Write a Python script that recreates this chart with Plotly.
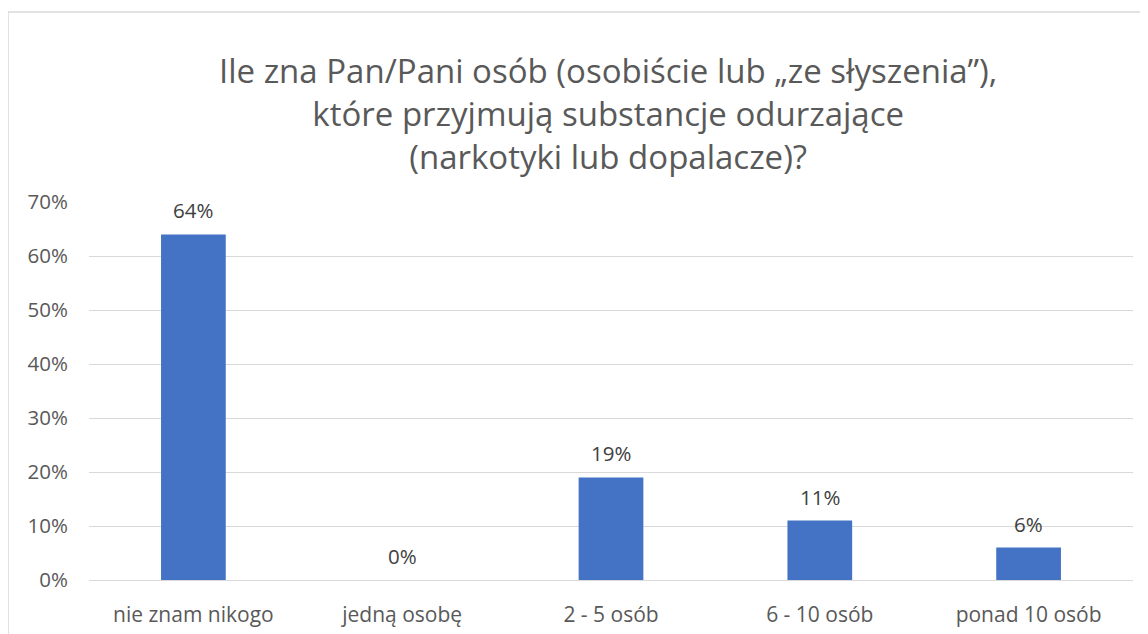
import plotly.graph_objects as go

categories = ["nie znam nikogo", "jedną osobę", "2 - 5 osób", "6 - 10 osób", "ponad 10 osób"]
values = [0.64, 0.00, 0.19, 0.11, 0.06]
labels = ["64%", "0%", "19%", "11%", "6%"]
y_ticks = [0, 0.1, 0.2, 0.3, 0.4, 0.5, 0.6, 0.7]
y_ticklabels = ["0%", "10%", "20%", "30%", "40%", "50%", "60%", "70%"]
title_text = "Ile zna Pan/Pani osób (osobiście lub „ze słyszenia”),<br>które przyjmują substancje odurzające<br>(narkotyki lub dopalacze)?"

FONT = "Open Sans"
OFF = 8  # page body margin
W, H = 1148 - OFF, 634 - OFF
L, R, T, B = 89 - OFF, 15, 202 - OFF, 54
pw, ph = W - L - R, H - T - B

def px_x(x):  # page x -> paper
    return (x - OFF - L) / pw

def px_y(y):  # page y -> paper
    return (H - B - (y - OFF)) / ph

fig = go.Figure()
fig.add_trace(go.Bar(x=categories, y=values, marker=dict(color="#4472C4", line=dict(width=0)),
                     width=0.31, hoverinfo="skip"))

for c, v, t in zip(categories, values, labels):
    fig.add_annotation(x=c, y=v, text=t, showarrow=False, yanchor="middle", yshift=24,
                       font=dict(family=FONT, size=20.5, color="#404040"))

fig.add_annotation(xref="paper", yref="paper", x=px_x(608), y=px_y(113),
                   text=title_text, showarrow=False, xanchor="center", yanchor="middle",
                   font=dict(family=FONT, size=33, color="#595959"), align="center")

# chart border
fig.add_shape(type="rect", xref="paper", yref="paper",
              x0=px_x(8), x1=px_x(1146), y0=px_y(700), y1=px_y(12),
              line=dict(color="#D9D9D9", width=1.5), fillcolor="rgba(0,0,0,0)", layer="below")

fig.update_layout(
    width=W, height=H, margin=dict(l=L, r=R, t=T, b=B, autoexpand=False),
    paper_bgcolor="white", plot_bgcolor="white", showlegend=False,
    bargap=0.69,
)
fig.update_yaxes(range=[0, 0.7], tickvals=y_ticks, ticktext=y_ticklabels, automargin=False,
                 showgrid=True, gridcolor="#D9D9D9", gridwidth=1.3, zeroline=False,
                 showline=False, ticks="", ticklabelstandoff=20,
                 tickfont=dict(family=FONT, size=20.5, color="#595959"))
fig.update_xaxes(showgrid=False, showline=True, linecolor="#D9D9D9", linewidth=1.3,
                 ticks="", ticklabelstandoff=16, automargin=False,
                 tickfont=dict(family=FONT, size=21, color="#595959"))

fig.write_html("out.html")
